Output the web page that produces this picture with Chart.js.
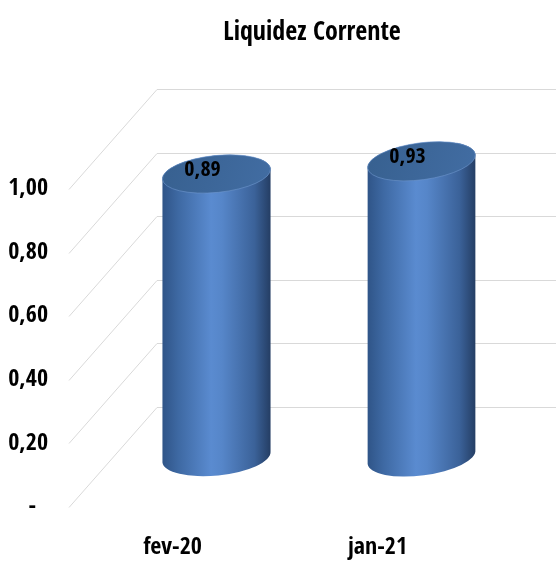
<!DOCTYPE html>
<html>
<head>
<meta charset="utf-8">
<script src="https://cdn.jsdelivr.net/npm/chart.js"></script>
<style>
    html, body { margin: 0; padding: 0; background: #fff; }
    #wrap { width: 556px; height: 561px; position: relative; }
</style>
</head>
<body>
<div id="wrap"><canvas id="liquidezChart"></canvas></div>
<script>
// Chart data
const categories = ['fev-20', 'jan-21'];
const liquidez = [0.89, 0.93];
const yTicks = [0, 0.2, 0.4, 0.6, 0.8, 1.0];

const FONT = "'Open Sans Condensed', 'Roboto Condensed', 'DejaVu Sans Condensed', sans-serif";
const DEPTH_X = 88;   // back wall offset
const DEPTH_Y = 100;

const fmt = v => v === 0 ? '-  ' : v.toFixed(2).replace('.', ',');

// Perspective grid: diagonal on the side, horizontal on the back wall
const wallPlugin = {
    id: 'wall3d',
    beforeDatasetsDraw(chart) {
        const { ctx, chartArea, scales } = chart;
        ctx.save();
        ctx.strokeStyle = '#d9d9d9';
        ctx.lineWidth = 1;
        yTicks.forEach(v => {
            const y = Math.round(scales.y.getPixelForValue(v)) + 0.5;
            ctx.beginPath();
            ctx.moveTo(chartArea.left - 1, y);
            ctx.lineTo(chartArea.left - 1 + DEPTH_X, y - DEPTH_Y);
            ctx.lineTo(chart.width, y - DEPTH_Y);
            ctx.stroke();
        });
        ctx.restore();
    }
};

// Draw each bar as a cylinder sitting at mid depth
const cylinderPlugin = {
    id: 'cylinders',
    afterDatasetsDraw(chart) {
        const { ctx } = chart;
        const meta = chart.getDatasetMeta(0);
        meta.data.forEach((bar, i) => {
            const cx = bar.x + DEPTH_X / 2;
            const topY = bar.y - DEPTH_Y / 2;
            const baseY = bar.base - DEPTH_Y / 2;
            const rx = bar.width / 2;
            const ry = bar.width * 0.17;
            const rot = -0.1 - i * 0.03;
            const dx = rx * Math.cos(rot);
            const dy = rx * Math.sin(rot);

            ctx.save();
            const grad = ctx.createLinearGradient(cx - rx, 0, cx + rx, 0);
            grad.addColorStop(0, '#2f5487');
            grad.addColorStop(0.15, '#3e69a3');
            grad.addColorStop(0.45, '#5a8bd0');
            grad.addColorStop(0.55, '#5686c9');
            grad.addColorStop(0.85, '#3b6299');
            grad.addColorStop(1, '#243d63');

            ctx.beginPath();
            ctx.moveTo(cx - dx, topY - dy);
            ctx.lineTo(cx - dx, baseY - dy);
            ctx.ellipse(cx, baseY, rx, ry, rot, Math.PI, 0, true);
            ctx.lineTo(cx + dx, topY + dy);
            ctx.ellipse(cx, topY, rx, ry, rot, 0, -Math.PI, true);
            ctx.closePath();
            ctx.fillStyle = grad;
            ctx.fill();

            // top cap
            const capGrad = ctx.createLinearGradient(cx - rx, topY - ry, cx + rx, topY + ry);
            capGrad.addColorStop(0, '#37608f');
            capGrad.addColorStop(1, '#426da3');
            ctx.beginPath();
            ctx.ellipse(cx, topY, rx, ry, rot, 0, Math.PI * 2);
            ctx.fillStyle = capGrad;
            ctx.fill();
            ctx.strokeStyle = 'rgba(110,150,205,0.6)';
            ctx.lineWidth = 1;
            ctx.stroke();

            // value label
            ctx.fillStyle = '#000';
            ctx.font = 'bold 22px ' + FONT;
            ctx.textAlign = 'center';
            ctx.textBaseline = 'middle';
            ctx.fillText(fmt(liquidez[i]), cx - 14, topY - 4);
            ctx.restore();
        });
    }
};

const titlePlugin = {
    id: 'chartTitle',
    afterDraw(chart) {
        const { ctx } = chart;
        ctx.save();
        ctx.fillStyle = '#000';
        ctx.font = 'bold 26px ' + FONT;
        ctx.textAlign = 'center';
        ctx.textBaseline = 'middle';
        ctx.fillText('Liquidez Corrente', 312, 33);
        ctx.restore();
    }
};

const ctx = document.getElementById('liquidezChart').getContext('2d');
new Chart(ctx, {
    type: 'bar',
    data: {
        labels: categories,
        datasets: [{
            label: 'Liquidez Corrente',
            data: liquidez,
            backgroundColor: 'rgba(0,0,0,0)',
            borderWidth: 0,
            categoryPercentage: 1,
            barPercentage: 0.53
        }]
    },
    options: {
        responsive: true,
        maintainAspectRatio: false,
        animation: false,
        layout: {
            padding: { top: 189, right: 76, bottom: 0, left: 0 }
        },
        plugins: {
            legend: { display: false },
            tooltip: { enabled: false },
            title: { display: false }
        },
        scales: {
            x: {
                afterFit(scale) { scale.height = 54; },
                grid: { display: false, drawTicks: false },
                border: { display: false },
                ticks: {
                    color: '#000',
                    padding: 26,
                    font: { family: FONT, size: 24, weight: 'bold' }
                }
            },
            y: {
                min: 0,
                max: 1,
                afterFit(scale) { scale.width = 70; },
                afterBuildTicks(scale) { scale.ticks = yTicks.map(v => ({ value: v })); },
                grid: { display: false, drawTicks: false },
                border: { display: false },
                ticks: {
                    color: '#000',
                    padding: 22,
                    font: { family: FONT, size: 24, weight: 'bold' },
                    callback: v => fmt(v)
                }
            }
        }
    },
    plugins: [wallPlugin, cylinderPlugin, titlePlugin]
});
</script>
</body>
</html>
